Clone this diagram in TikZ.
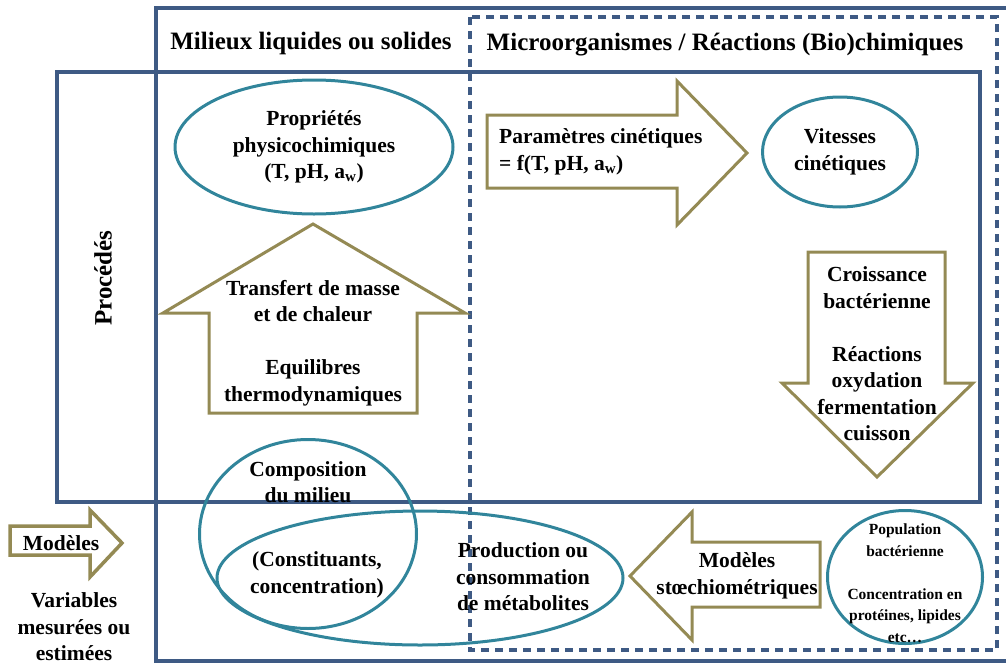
\documentclass[tikz,border=0pt]{standalone}
\usepackage{fontspec}
\setmainfont{Liberation Serif}
\usetikzlibrary{
    shapes.geometric,
    positioning
}

\definecolor{frameblue}{RGB}{62,90,132}
\definecolor{tealline}{RGB}{49,133,155}
\definecolor{olivedrab}{RGB}{148,138,84}

\begin{document}
\begin{tikzpicture}[
    x=1pt, y=-1pt,
    frame/.style={draw=frameblue, line width=3.2pt},
    dashframe/.style={draw=frameblue, line width=3.2pt,
                      dash pattern=on 8pt off 6pt},
    bubble/.style={ellipse, draw=tealline, line width=3pt, inner sep=0pt},
    blockarrow/.style={draw=olivedrab, line width=3pt, fill=white,
                       line join=miter},
    headlab/.style={font=\fontsize{25}{30}\selectfont\bfseries, inner sep=0pt},
    lab/.style={font=\fontsize{21.5}{26.5}\selectfont\bfseries,
                align=center, inner sep=0pt},
    smalllab/.style={font=\fontsize{15.5}{21.5}\selectfont\bfseries,
                     align=center, inner sep=0pt}
]
\useasboundingbox (0,0) rectangle (1006,664);

% =========================
% 1) FRAMES
% =========================
\draw[frame]     (156,8)  rectangle (1030,661);
\draw[dashframe] (470,17) rectangle (997,650);
\draw[frame]     (57,72)  rectangle (980,502);

\node[headlab] (milieux) at (311,43) {Milieux liquides ou solides};
\node[headlab] (micro)   at (725,45) {Microorganismes / Réactions (Bio)chimiques};
\node[headlab, rotate=90] (procedes) at (103,278) {Procédés};

% =========================
% 2) ELLIPSES
% =========================
\node[bubble, minimum width=278pt, minimum height=134pt] (proprietes) at (314,147)
    {};
\node[lab] at (proprietes.center)
    {Propriétés\\physicochimiques\\(T, pH, a\textsubscript{w})};

\node[bubble, minimum width=155pt, minimum height=110pt] (vitesses) at (840,152) {};
\node[lab] at (vitesses.center) {Vitesses\\cinétiques};

\node[bubble, minimum width=217pt, minimum height=189pt] (composition) at (308,534) {};
\node[bubble, minimum width=406pt, minimum height=134pt] (production) at (420,578) {};
\node[lab] (compotxt)     at (308,482) {Composition\\du milieu};
\node[lab] (constituants) at (317,575) {(Constituants,\\concentration)};
\node[lab] (prodtxt)      at (523,577) {Production ou\\consommation\\de métabolites};

\node[bubble, minimum width=155pt, minimum height=133pt] (population) at (905,577) {};
\node[smalllab] at (905,583)
    {Population\\bactérienne\\[21.5pt]Concentration en\\protéines, lipides\\etc…};

% =========================
% 3) BLOCK ARROWS
% =========================
% up: transfert
\draw[blockarrow] (209,413) -- (209,313) -- (163,313) -- (313,224)
    -- (465,313) -- (417,313) -- (417,413) -- cycle;
\node[lab] (transfert) at (313,343)
    {Transfert de masse\\et de chaleur\\[26.5pt]Equilibres\\thermodynamiques};

% right: parametres
\draw[blockarrow] (487,115) -- (677,115) -- (677,81) -- (747,153)
    -- (677,225) -- (677,188) -- (487,188) -- cycle;
\node[lab, align=left, anchor=west] (parametres) at (499,152)
    {Paramètres cinétiques\\= f(T, pH, a\textsubscript{w})};

% down: croissance
\draw[blockarrow] (808,252) -- (945,252) -- (945,383) -- (973,383)
    -- (877,477) -- (782,383) -- (808,383) -- cycle;
\node[lab] (croissance) at (877,354)
    {Croissance\\bactérienne\\[26.5pt]Réactions\\oxydation\\fermentation\\cuisson};

% left: stoechiometrie
\draw[blockarrow] (820,542) -- (692,542) -- (692,512) -- (630,576)
    -- (692,640) -- (692,607) -- (820,607) -- cycle;
\node[lab] (stoechio) at (737,576) {Modèles\\stœchiométriques};

% legend
\draw[blockarrow, line width=3.5pt] (10,526) -- (90,526) -- (90,510) -- (122,543)
    -- (90,577) -- (90,555) -- (10,555) -- cycle;
\node[lab] (modeles) at (61,543) {Modèles};
\node[lab] (variables) at (74,627) {Variables\\mesurées ou\\estimées};

\end{tikzpicture}
\end{document}
